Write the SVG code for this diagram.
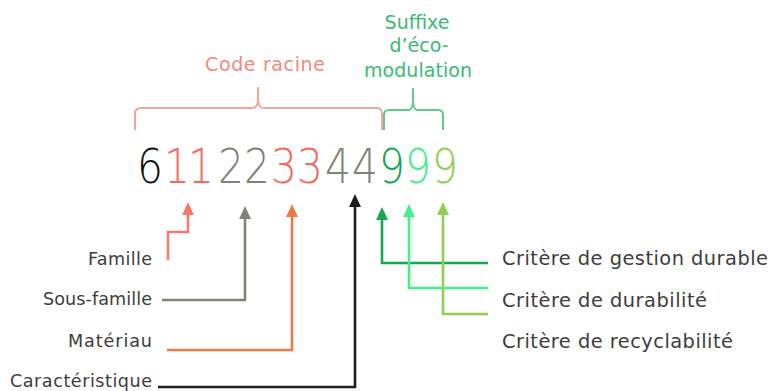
<svg xmlns="http://www.w3.org/2000/svg" width="772" height="391" viewBox="0 0 772 391">
<style>
  .lbl { font-family: "DejaVu Sans", "Liberation Sans", sans-serif; font-size: 17.6px; fill: #3d3d3d; }
  .lblr { font-family: "DejaVu Sans", "Liberation Sans", sans-serif; font-size: 19.4px; fill: #3d3d3d; }
  .dig { font-family: "DejaVu Sans", "Liberation Sans", sans-serif; font-size: 48px; font-weight: 200; text-anchor: middle; }
  .head { font-family: "DejaVu Sans", "Liberation Sans", sans-serif; font-size: 19px; text-anchor: middle; }
  .con { fill: none; stroke-width: 2.6; stroke-linejoin: miter; }
  .brk { fill: none; stroke-width: 2; }
</style>
<defs>
  <marker id="aRed" markerUnits="userSpaceOnUse" markerWidth="13" markerHeight="12" refX="0" refY="5.5" orient="auto" viewBox="0 0 12 11"><path d="M0,0 L12,5.5 L0,11 z" fill="#f87a6c"/></marker>
  <marker id="aGray" markerUnits="userSpaceOnUse" markerWidth="13" markerHeight="12" refX="0" refY="5.5" orient="auto" viewBox="0 0 12 11"><path d="M0,0 L12,5.5 L0,11 z" fill="#7e8476"/></marker>
  <marker id="aOrange" markerUnits="userSpaceOnUse" markerWidth="13" markerHeight="12" refX="0" refY="5.5" orient="auto" viewBox="0 0 12 11"><path d="M0,0 L12,5.5 L0,11 z" fill="#ec7a48"/></marker>
  <marker id="aBlack" markerUnits="userSpaceOnUse" markerWidth="13" markerHeight="12" refX="0" refY="5.5" orient="auto" viewBox="0 0 12 11"><path d="M0,0 L12,5.5 L0,11 z" fill="#1e1e1e"/></marker>
  <marker id="aGreen" markerUnits="userSpaceOnUse" markerWidth="13" markerHeight="12" refX="0" refY="5.5" orient="auto" viewBox="0 0 12 11"><path d="M0,0 L12,5.5 L0,11 z" fill="#17a651"/></marker>
  <marker id="aMint" markerUnits="userSpaceOnUse" markerWidth="13" markerHeight="12" refX="0" refY="5.5" orient="auto" viewBox="0 0 12 11"><path d="M0,0 L12,5.5 L0,11 z" fill="#45ee8c"/></marker>
  <marker id="aLime" markerUnits="userSpaceOnUse" markerWidth="13" markerHeight="12" refX="0" refY="5.5" orient="auto" viewBox="0 0 12 11"><path d="M0,0 L12,5.5 L0,11 z" fill="#8fcf52"/></marker>
</defs>
<rect width="772" height="391" fill="#ffffff"/>

<g id="code-racine">
  <text class="head" x="265" y="71" fill="#f2897c" textLength="120">Code racine</text>
  <path class="brk" stroke="#f4a69c" d="M135,130 L135,114 Q135,108 141,108 L253,108 Q257,108 258,100 L258,87 L258,100 Q259,108 263,108 L377,108 Q382,108 382,114 L382,130"/>
</g>

<g id="suffixe">
  <text class="head" x="417" y="29" fill="#3db877">Suffixe</text>
  <text class="head" x="419" y="52" fill="#3db877">d’éco-</text>
  <text class="head" x="418" y="77" fill="#3db877" textLength="108">modulation</text>
  <path class="brk" stroke="#63c88d" d="M384,130 L384,115 Q384,110 389,110 L409,110 Q412,110 413,102 L413,88 L413,102 Q414,110 417,110 L438,110 Q443,110 443,115 L443,130"/>
</g>

<g id="code">
  <text class="dig" transform="scale(0.85,1)" x="176.47 208.24 236.47 271.76 302.35 334.12 364.71 397.65 429.41 461.18 491.76 523.53" y="183"><tspan fill="#111111">6</tspan><tspan fill="#f46a5c">11</tspan><tspan fill="#7e8476">22</tspan><tspan fill="#f46a5c">33</tspan><tspan fill="#7e8476">44</tspan><tspan fill="#17a651">9</tspan><tspan fill="#45ee8c">9</tspan><tspan fill="#8fcf52">9</tspan></text>
</g>

<g id="famille"><text class="lbl" x="152" y="265" text-anchor="end" textLength="64">Famille</text></g>
<g id="sous-famille"><text class="lbl" x="152" y="305" text-anchor="end" textLength="109">Sous-famille</text></g>
<g id="materiau"><text class="lbl" x="152" y="347" text-anchor="end" textLength="84">Matériau</text></g>
<g id="caracteristique"><text class="lbl" x="152" y="387" text-anchor="end" textLength="142">Caractéristique</text></g>
<g id="gestion"><text class="lblr" x="502" y="265" textLength="266">Critère de gestion durable</text></g>
<g id="durabilite"><text class="lblr" x="502" y="307" textLength="205">Critère de durabilité</text></g>
<g id="recyclabilite"><text class="lblr" x="502" y="348" textLength="231">Critère de recyclabilité</text></g>

<g id="connectors">
  <path class="con" stroke="#f87a6c" d="M168,260 L168,232 L188,232 L188,215" marker-end="url(#aRed)"/>
  <path class="con" stroke="#7e8476" d="M162,300 L245,300 L245,219" marker-end="url(#aGray)"/>
  <path class="con" stroke="#ec7a48" d="M167,350 L292,350 L292,217" marker-end="url(#aOrange)"/>
  <path class="con" stroke="#1e1e1e" d="M158,387 L355,387 L355,207" marker-end="url(#aBlack)"/>
  <path class="con" stroke="#17a651" d="M488,263 L382,263 L382,220" marker-end="url(#aGreen)"/>
  <path class="con" stroke="#45ee8c" d="M488,288 L409,288 L409,217" marker-end="url(#aMint)"/>
  <path class="con" stroke="#8fcf52" d="M488,314 L443,314 L443,215" marker-end="url(#aLime)"/>
</g>
</svg>
